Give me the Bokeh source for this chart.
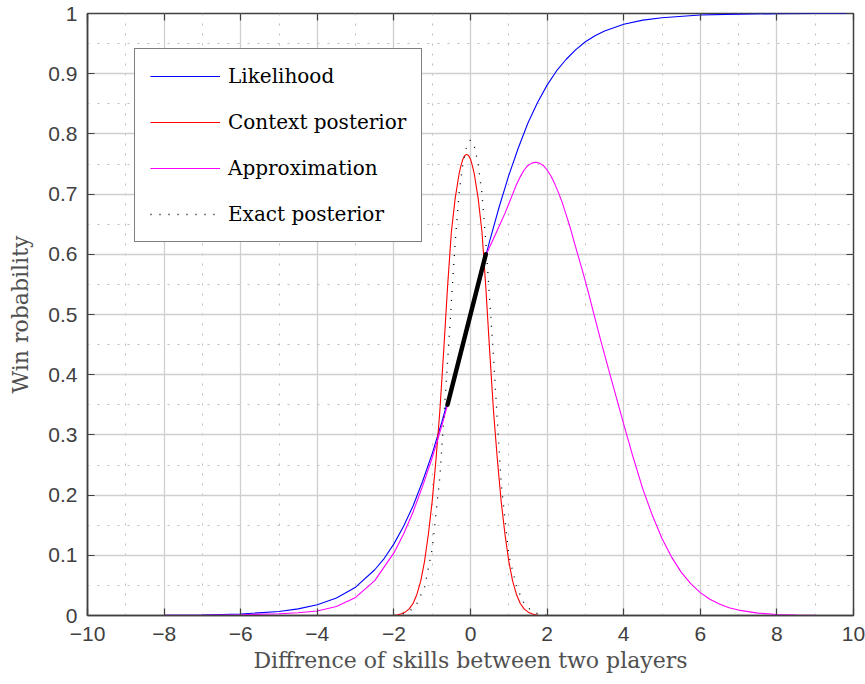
from bokeh.plotting import figure
from bokeh.models import Range1d, FixedTicker, LinearAxis
from bokeh.embed import file_html
from bokeh.resources import INLINE

# ---------------- data ----------------
lik_x = [-10, -9, -8, -7, -6, -5, -4.5, -4, -3.5, -3, -2.5, -2.25, -2, -1.75, -1.5, -1.25, -1,
         -0.75, -0.5, -0.25, 0, 0.25, 0.5, 0.75, 1, 1.25, 1.5, 1.75, 2, 2.25, 2.5, 2.75, 3,
         3.25, 3.5, 4, 4.5, 5, 6, 7, 8, 9, 10]
lik_y = [0.00005, 0.0001, 0.0003, 0.0009, 0.0025, 0.0067, 0.011, 0.018, 0.029, 0.047, 0.076,
         0.095, 0.119, 0.148, 0.182, 0.223, 0.269, 0.321, 0.378, 0.438, 0.5, 0.562, 0.622,
         0.679, 0.731, 0.777, 0.818, 0.852, 0.881, 0.905, 0.924, 0.940, 0.953, 0.963, 0.971,
         0.982, 0.989, 0.993, 0.9975, 0.999, 0.9997, 0.9999, 1.0]

ctx_x = [-10, -2.0, -1.9, -1.8, -1.7, -1.6, -1.5, -1.4, -1.3, -1.2, -1.1, -1.0, -0.9, -0.8,
         -0.7, -0.6, -0.5, -0.4, -0.3, -0.25, -0.2, -0.15, -0.1, -0.05, 0.0, 0.05, 0.1, 0.2,
         0.3, 0.4, 0.5, 0.6, 0.7, 0.8, 0.9, 1.0, 1.1, 1.2, 1.3, 1.4, 1.5, 1.6, 1.7, 1.8, 10]
ctx_y = [0, 0, 0.0012, 0.003, 0.006, 0.011, 0.02, 0.035, 0.057, 0.09, 0.135, 0.19, 0.26, 0.34,
         0.44, 0.545, 0.637, 0.693, 0.733, 0.747, 0.758, 0.764, 0.766, 0.764, 0.758, 0.747,
         0.733, 0.693, 0.637, 0.545, 0.44, 0.34, 0.26, 0.19, 0.135, 0.09, 0.057, 0.035, 0.02,
         0.011, 0.006, 0.003, 0.0012, 0, 0]

app_x = [-10, -9, -8, -7, -6, -5, -4.5, -4, -3.5, -3, -2.5, -2, -1.75, -1.5, -1.25, -1, -0.75,
         -0.5, -0.25, 0, 0.2, 0.4, 0.5, 0.6, 0.7, 0.8, 0.9, 1.0, 1.1, 1.2, 1.3, 1.4, 1.5, 1.6,
         1.7, 1.8, 1.9, 2.0, 2.1, 2.2, 2.3, 2.4, 2.5, 2.6, 2.7, 2.8, 2.9, 3.0, 3.1, 3.2, 3.4,
         3.6, 3.8, 4.0, 4.25, 4.5, 4.75, 5.0, 5.25, 5.5, 5.75, 6.0, 6.25, 6.5, 6.75, 7.0, 7.5,
         8.0, 8.5, 9, 10]
app_y = [0, 0.00005, 0.0002, 0.0005, 0.0012, 0.003, 0.0045, 0.0075, 0.015, 0.03, 0.058, 0.104,
         0.135, 0.172, 0.215, 0.262, 0.315, 0.373, 0.435, 0.497, 0.548, 0.598, 0.612, 0.626,
         0.640, 0.654, 0.668, 0.684, 0.700, 0.716, 0.729, 0.740, 0.7476, 0.7515, 0.753,
         0.7515, 0.7476, 0.740, 0.730, 0.717, 0.702, 0.685, 0.665, 0.645, 0.622, 0.600, 0.578,
         0.555, 0.531, 0.506, 0.457, 0.410, 0.364, 0.318, 0.262, 0.210, 0.166, 0.128, 0.097,
         0.072, 0.053, 0.038, 0.027, 0.019, 0.013, 0.009, 0.004, 0.0016, 0.0006, 0.0002, 0]

ex_x = [-2.0, -1.8, -1.6, -1.4, -1.2, -1.0, -0.8, -0.6, -0.4, -0.3, -0.2, -0.1, 0, 0.1, 0.2,
        0.3, 0.4, 0.6, 0.8, 1.0, 1.2, 1.4, 1.6, 1.8, 2.0]
ex_y = [0, 0.002, 0.006, 0.02, 0.047, 0.11, 0.23, 0.42, 0.62, 0.70, 0.75, 0.78, 0.79, 0.78,
        0.75, 0.70, 0.62, 0.43, 0.22, 0.10, 0.048, 0.02, 0.007, 0.002, 0]

seg_x = [-0.6, 0.4]
seg_y = [0.35, 0.6]

x_ticks = [-10, -8, -6, -4, -2, 0, 2, 4, 6, 8, 10]
x_tick_labels = ["\u221210", "\u22128", "\u22126", "\u22124", "\u22122", "0", "2", "4", "6", "8", "10"]
y_ticks = [0, 0.1, 0.2, 0.3, 0.4, 0.5, 0.6, 0.7, 0.8, 0.9, 1]
y_tick_labels = ["0", "0.1", "0.2", "0.3", "0.4", "0.5", "0.6", "0.7", "0.8", "0.9", "1"]

series_names = ["Likelihood", "Context posterior", "Approximation", "Exact posterior"]
x_label = "Diffrence of skills between two players"
y_label = "Win robability"

# ---------------- figure ----------------
AX = "#404040"
p = figure(width=865, height=684, output_backend="svg", toolbar_location=None,
           x_range=Range1d(-10, 10), y_range=Range1d(0, 1),
           min_border_left=87, min_border_right=12, min_border_top=13, min_border_bottom=69)
p.background_fill_color = "white"
p.border_fill_color = "white"
p.outline_line_color = AX
p.outline_line_width = 1.5

x_minor = [v + 1 for v in x_ticks[:-1]]
y_minor = [round(v + 0.05, 2) for v in y_ticks[:-1]]
xt = FixedTicker(ticks=x_ticks, minor_ticks=x_minor)
yt = FixedTicker(ticks=y_ticks, minor_ticks=y_minor)

p.xaxis.ticker = xt
p.yaxis.ticker = yt
p.xaxis.major_label_overrides = dict(zip(x_ticks, x_tick_labels))
p.yaxis.major_label_overrides = dict(zip(y_ticks, y_tick_labels))

for ax in (p.xaxis[0], p.yaxis[0]):
    ax.axis_line_color = AX
    ax.axis_line_width = 1.5
    ax.major_tick_line_color = AX
    ax.major_tick_line_width = 1.2
    ax.major_tick_in = 7
    ax.major_tick_out = 0
    ax.minor_tick_line_color = None
    ax.major_label_text_font = "Liberation Sans"
    ax.major_label_text_font_size = "21px"
    ax.major_label_text_color = AX
    ax.axis_label_text_font = "DejaVu Serif"
    ax.axis_label_text_font_size = "22px"
    ax.axis_label_text_font_style = "normal"
    ax.axis_label_text_color = "#505050"

p.xaxis.axis_label = x_label
p.yaxis.axis_label = y_label
p.xaxis.major_label_standoff = 7
p.yaxis.major_label_standoff = 6
p.xaxis.axis_label_standoff = 4
p.yaxis.axis_label_standoff = 12

# ticks on the top and right sides (box)
for loc, tk in (("above", xt), ("right", yt)):
    a = LinearAxis(ticker=tk)
    a.axis_line_color = None
    a.major_tick_line_color = AX
    a.major_tick_line_width = 1.2
    a.major_tick_in = 7
    a.major_tick_out = 0
    a.minor_tick_line_color = None
    a.major_label_text_color = None
    a.major_label_text_font_size = "1px"
    a.major_label_standoff = 0
    p.add_layout(a, loc)

# grids
for g in (p.xgrid[0], p.ygrid[0]):
    g.grid_line_color = "#cfcfcf"
    g.grid_line_width = 1.3
    g.minor_grid_line_color = "#bdbdbd"
    g.minor_grid_line_width = 1
    g.minor_grid_line_dash = "2 8"

# curves (multi_line so the legend glyphs keep their colours)
p.multi_line([lik_x], [lik_y], line_color="#0000ff", line_width=1.1, legend_label=series_names[0])
p.multi_line([ctx_x], [ctx_y], line_color="#ff0000", line_width=1.1, legend_label=series_names[1])
p.multi_line([app_x], [app_y], line_color="#ff00ff", line_width=1.1, legend_label=series_names[2])
p.multi_line([ex_x], [ex_y], line_color="black", line_width=1.3, line_dash="1 8",
             legend_label=series_names[3])
p.line(seg_x, seg_y, line_color="black", line_width=4.5, line_cap="round")

legend = p.legend[0]
legend.location = (47, 373)
legend.label_text_font = "DejaVu Serif"
legend.label_text_font_size = "20px"
legend.label_text_color = "black"
legend.border_line_color = "black"
legend.border_line_width = 1.5
legend.background_fill_color = "white"
legend.background_fill_alpha = 1
legend.glyph_width = 70
legend.glyph_height = 24
legend.label_height = 24
legend.label_standoff = 8
legend.spacing = 22
legend.padding = 15
legend.margin = 0

open("out.html", "w").write(file_html(p, INLINE))
